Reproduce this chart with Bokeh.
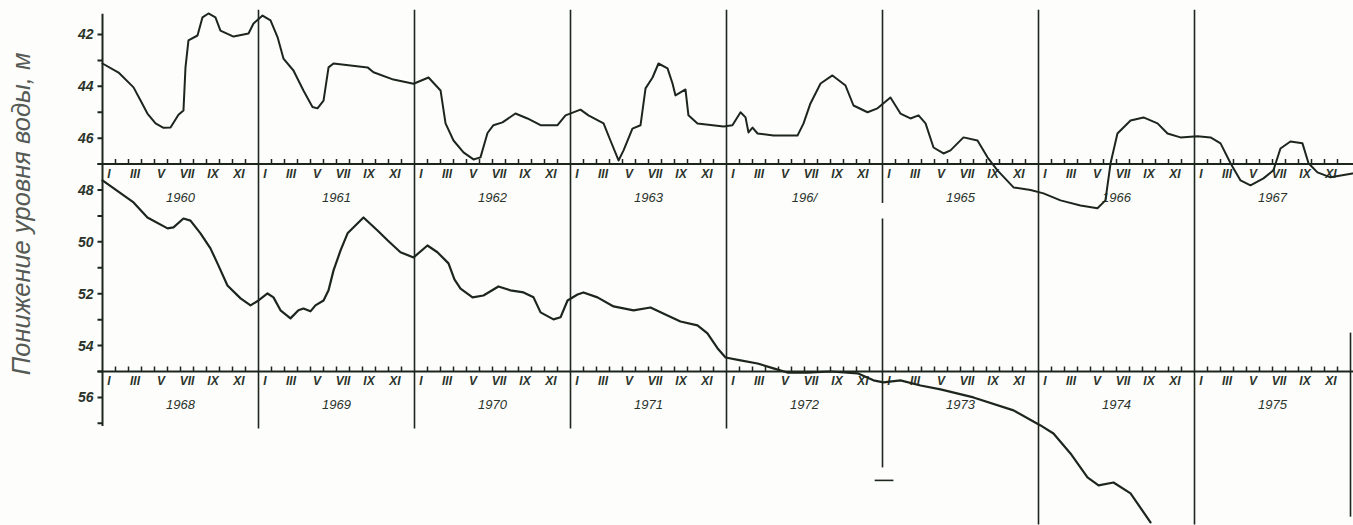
import math
from bokeh.plotting import figure
from bokeh.models import Range1d
from bokeh.core.properties import value
from bokeh.embed import file_html
from bokeh.resources import INLINE

# ---------------- data ----------------
top_years = [1960, 1961, 1962, 1963, 1964, 1965, 1966, 1967]
bottom_years = [1968, 1969, 1970, 1971, 1972, 1973, 1974, 1975]
top_year_labels = ["1960", "1961", "1962", "1963", "196/", "1965", "1966", "1967"]
bottom_year_labels = ["1968", "1969", "1970", "1971", "1972", "1973", "1974", "1975"]
month_labels = ["I", "III", "V", "VII", "IX", "XI"]
month_label_numbers = [1, 3, 5, 7, 9, 11]
y_major_ticks = [42, 44, 46, 48, 50, 52, 54, 56]
y_minor_ticks = [43, 45, 47, 49, 51, 53, 55, 57]
top_axis_level = 47
bottom_axis_level = 55
y_title = "Понижение уровня воды, м"

# upper curve: 1960-1967 (time in decimal years, drawdown in m)
top_t = [1960.000, 1960.103, 1960.199, 1960.244, 1960.288, 1960.340, 1960.391, 1960.436,
         1960.487, 1960.519, 1960.532,
         1960.551, 1960.609, 1960.641, 1960.679, 1960.724, 1960.756, 1960.840, 1960.936,
         1960.968, 1961.026, 1961.077, 1961.122, 1961.160, 1961.224, 1961.288, 1961.346,
         1961.378, 1961.417, 1961.449, 1961.481, 1961.699, 1961.737, 1961.865, 1961.994,
         1962.090, 1962.167, 1962.199, 1962.250, 1962.314, 1962.378, 1962.423, 1962.468,
         1962.506, 1962.564, 1962.647, 1962.724, 1962.808, 1962.917, 1962.968, 1963.064,
         1963.115, 1963.212, 1963.256, 1963.308, 1963.340, 1963.397, 1963.449, 1963.481,
         1963.526, 1963.564, 1963.622, 1963.654, 1963.673, 1963.737, 1963.756, 1963.814,
         1963.981, 1964.038, 1964.090, 1964.122, 1964.141, 1964.167, 1964.199, 1964.301,
         1964.455, 1964.494, 1964.538, 1964.603, 1964.679, 1964.763, 1964.814, 1964.904,
         1964.968, 1965.051, 1965.115, 1965.179, 1965.231, 1965.276, 1965.327, 1965.391,
         1965.436, 1965.519, 1965.609, 1965.673, 1965.737, 1965.840, 1965.949, 1966.032,
         1966.141, 1966.269, 1966.378, 1966.429, 1966.462, 1966.506, 1966.590, 1966.673,
         1966.763, 1966.827, 1966.910, 1967.019, 1967.103, 1967.167, 1967.231, 1967.295,
         1967.359, 1967.442, 1967.506, 1967.551, 1967.615, 1967.692, 1967.731, 1967.788,
         1967.872, 1968.013]
top_v = [43.12, 43.47, 44.04, 44.55, 45.05, 45.43, 45.60, 45.59,
         45.10, 44.93, 43.27,
         42.23, 42.04, 41.34, 41.19, 41.34, 41.85, 42.08, 41.96,
         41.58, 41.27, 41.46, 42.10, 42.93, 43.39, 44.16, 44.80,
         44.85, 44.55, 43.27, 43.12, 43.27, 43.46, 43.74, 43.90,
         43.66, 44.16, 45.43, 46.09, 46.55, 46.82, 46.74, 45.80,
         45.50, 45.39, 45.05, 45.24, 45.50, 45.50, 45.12, 44.90,
         45.12, 45.43, 46.09, 46.86, 46.47, 45.63, 45.50, 44.08,
         43.66, 43.12, 43.31, 43.89, 44.35, 44.12, 45.12, 45.43,
         45.55, 45.50, 45.00, 45.20, 45.78, 45.59, 45.82, 45.90,
         45.90, 45.43, 44.66, 43.89, 43.58, 43.97, 44.74, 45.00,
         44.85, 44.43, 45.05, 45.24, 45.12, 45.43, 46.36, 46.59,
         46.47, 45.97, 46.09, 46.74, 47.24, 47.90, 48.00, 48.13,
         48.40, 48.60, 48.70, 48.40, 46.97, 45.82, 45.32, 45.20,
         45.43, 45.82, 45.97, 45.93, 45.97, 46.20, 46.97, 47.63,
         47.82, 47.55, 47.24, 46.40, 46.13, 46.20, 46.97, 47.32,
         47.51, 47.36]

# lower curve: 1968-1975
bot_t = [1968.000, 1968.199, 1968.288, 1968.417, 1968.455, 1968.519, 1968.564, 1968.628,
         1968.692, 1968.737, 1968.801, 1968.885, 1968.949, 1969.000, 1969.058, 1969.096,
         1969.141, 1969.205, 1969.256, 1969.288, 1969.333, 1969.365, 1969.417, 1969.449,
         1969.481, 1969.526, 1969.571, 1969.673, 1969.763, 1969.827, 1969.910, 1969.994,
         1970.083, 1970.147, 1970.218, 1970.256, 1970.295, 1970.372, 1970.442, 1970.538,
         1970.615, 1970.699, 1970.763, 1970.808, 1970.891, 1970.936, 1970.981, 1971.045,
         1971.083, 1971.173, 1971.276, 1971.404, 1971.513, 1971.622, 1971.705, 1971.814,
         1971.878, 1971.942, 1971.994, 1972.090, 1972.199, 1972.301, 1972.391, 1972.519,
         1972.667, 1972.840, 1972.942, 1973.006, 1973.115, 1973.244, 1973.372, 1973.583,
         1973.840, 1974.013, 1974.096, 1974.205, 1974.314, 1974.385, 1974.481, 1974.590,
         1974.718]
bot_v = [47.63, 48.48, 49.06, 49.48, 49.44, 49.10, 49.18, 49.67,
         50.25, 50.83, 51.68, 52.18, 52.45, 52.26, 51.99, 52.14,
         52.64, 52.95, 52.64, 52.57, 52.68, 52.45, 52.26, 51.87,
         51.10, 50.33, 49.67, 49.06, 49.56, 49.94, 50.40, 50.60,
         50.14, 50.40, 50.83, 51.45, 51.80, 52.14, 52.07, 51.72,
         51.87, 51.95, 52.14, 52.72, 52.99, 52.91, 52.26, 52.03,
         51.95, 52.14, 52.49, 52.64, 52.53, 52.84, 53.07, 53.22,
         53.53, 54.10, 54.46, 54.57, 54.69, 54.88, 55.04, 55.04,
         55.00, 55.07, 55.34, 55.42, 55.34, 55.54, 55.69, 56.00,
         56.50, 57.08, 57.39, 58.16, 59.08, 59.39, 59.28, 59.70,
         60.82]

# ---------------- drawing ----------------
INK = "#1d261d"
LABEL_INK = "#2a332a"
PX_PER_M = 25.93      # vertical scale, px per metre
PX_PER_YR = 156.0     # horizontal scale, px per year
LEFT_PX = 102         # y-axis position from left edge

p = figure(width=1353, height=525,
           x_range=Range1d(-LEFT_PX / PX_PER_YR, (1353 - LEFT_PX) / PX_PER_YR),
           y_range=Range1d(60.94, 40.69),
           output_backend="svg", toolbar_location=None,
           x_axis_location=None, y_axis_location=None,
           min_border=0,
           background_fill_color="#fdfdfb", border_fill_color="#fdfdfb")
p.outline_line_color = None
p.grid.visible = False

dx = 1 / PX_PER_YR
dy = 1 / PX_PER_M

# vertical (drawdown) axis drawn with glyphs
p.segment(x0=[0], y0=[41.2], x1=[0], y1=[57.1], line_color=INK, line_width=2)
yt = y_major_ticks + y_minor_ticks
p.segment(x0=[0] * len(yt), y0=yt, x1=[-5 * dx] * len(yt), y1=yt, line_color=INK, line_width=2)
p.text(x=[-9 * dx] * len(y_major_ticks), y=y_major_ticks, text=[str(v) for v in y_major_ticks],
       text_font=value("Liberation Sans"), text_font_style="bold italic",
       text_font_size="14px", text_color=LABEL_INK,
       text_align="right", text_baseline="middle")
p.text(x=[-82 * dx], y=[48.92], text=[y_title], angle=math.pi / 2,
       text_font=value("Liberation Sans"), text_font_style="italic",
       text_font_size="25.5px", text_color="#555a55",
       text_align="center", text_baseline="middle")

n_years = len(top_years)

# time axes (horizontal lines) and month ticks
for level in (top_axis_level, bottom_axis_level):
    p.segment(x0=[-5 * dx], y0=[level], x1=[8.02], y1=[level], line_color=INK, line_width=2)
    tx = [k + m / 12 for k in range(n_years) for m in range(1, 12)]
    p.segment(x0=tx, y0=[level] * len(tx), x1=tx, y1=[level - 5 * dy] * len(tx),
              line_color=INK, line_width=1.5)

# year boundaries (vertical lines)
top_end = 41.05
vx0, vy0, vx1, vy1 = [], [], [], []
for k in range(1, n_years):
    if k <= 4:
        segs = [(top_end, 57.2)]
    elif k == 5:
        segs = [(top_end, 48.5), (49.1, 58.7)]
    else:
        segs = [(top_end, 60.9)]
    for a, b in segs:
        vx0.append(k); vx1.append(k); vy0.append(a); vy1.append(b)
# right edge partial line
vx0.append(8.0); vx1.append(8.0); vy0.append(53.5); vy1.append(60.6)
p.segment(x0=vx0, y0=vy0, x1=vx1, y1=vy1, line_color=INK, line_width=1.6)
# small dash below the 1973 boundary
p.segment(x0=[4.95], y0=[59.2], x1=[5.07], y1=[59.2], line_color=INK, line_width=1.6)

# month labels and year labels
for level, labels in ((top_axis_level, top_year_labels), (bottom_axis_level, bottom_year_labels)):
    mx = [k + (m - 0.5) / 12 for k in range(n_years) for m in month_label_numbers]
    mt = [lab for k in range(n_years) for lab in month_labels]
    p.text(x=mx, y=[level + 10 * dy] * len(mx), text=mt,
           text_font=value("Liberation Sans"), text_font_style="bold italic",
           text_font_size="12px", text_color=LABEL_INK,
           text_align="center", text_baseline="middle")
    yx = [k + 0.5 for k in range(n_years)]
    p.text(x=yx, y=[level + 33 * dy] * len(yx), text=labels,
           text_font=value("Liberation Sans"), text_font_style="italic",
           text_font_size="13px", text_color=LABEL_INK,
           text_align="center", text_baseline="middle")

# curves
top_x = [t - top_years[0] for t in top_t]
bot_x = [t - bottom_years[0] for t in bot_t]
p.line(x=top_x, y=top_v, line_color=INK, line_width=2, line_join="round", line_cap="round")
p.line(x=bot_x, y=bot_v, line_color=INK, line_width=2.2, line_join="round", line_cap="round")

open("out.html", "w").write(file_html(p, INLINE))
